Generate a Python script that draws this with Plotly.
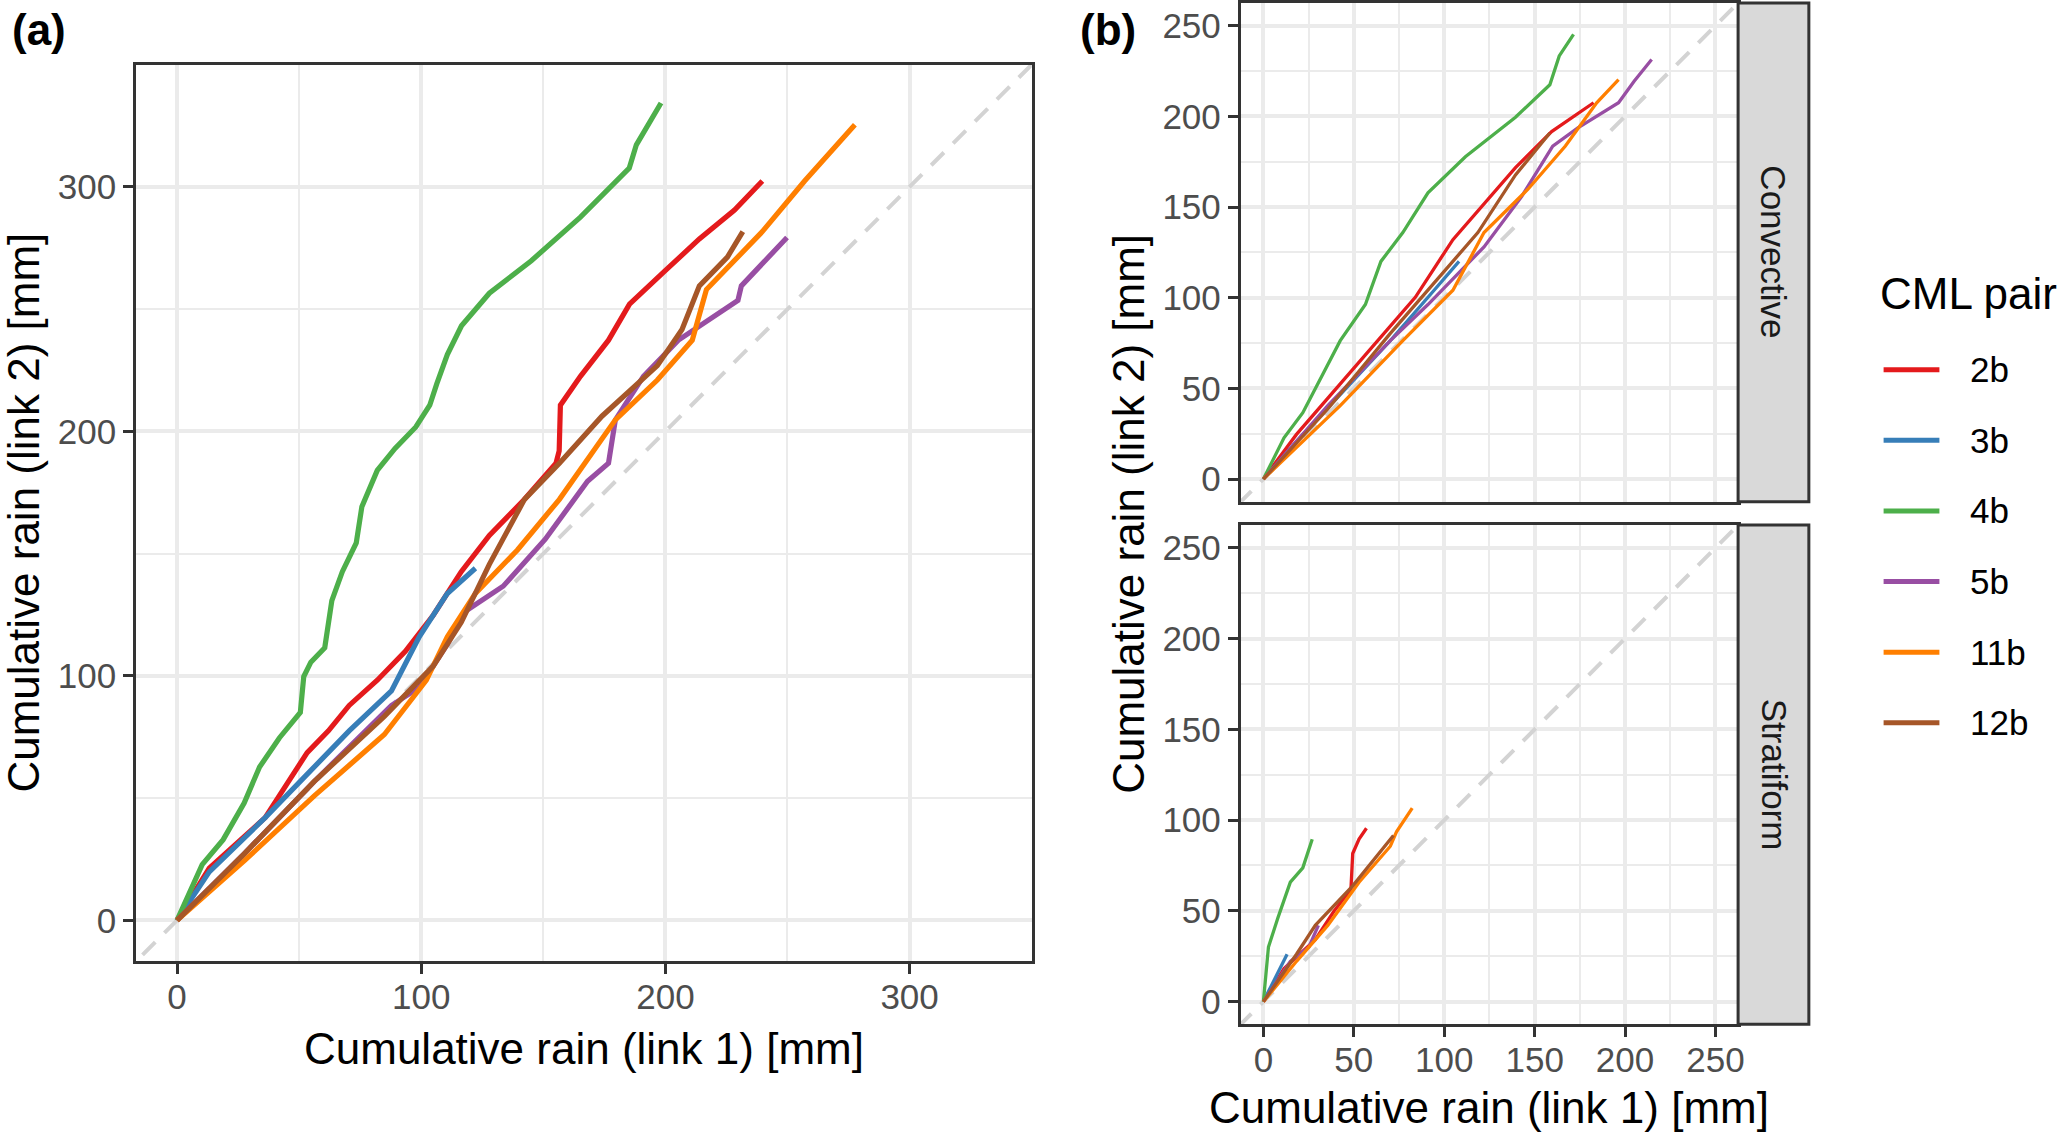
import plotly.graph_objects as go

# CML pairs and Set1 colours
pairs = ["2b", "3b", "4b", "5b", "11b", "12b"]
colors = ["#E41A1C", "#377EB8", "#4DAF4A", "#984EA3", "#FF7F00", "#A65628"]

# ---- panel (a): whole period
a_x_2b = [0, 13.2, 36.1, 47.6, 53.3, 62, 70.5, 82, 93.5, 105, 116.4, 127.9, 142.3, 155.2, 156.5, 157.0, 165.2, 176.7, 185.3, 199.6, 213.9, 228.3, 239.7]
a_y_2b = [0, 21.3, 42, 59.8, 68.6, 77.5, 87.9, 98.2, 110, 124.9, 142.6, 157.4, 172.2, 187, 192, 210.7, 222.5, 237.3, 252, 265.4, 278.7, 290.5, 302.4]
a_x_3b = [0, 13.2, 36.1, 70.5, 87.8, 99.2, 110.7, 122.2]
a_y_3b = [0, 19.8, 42, 77.5, 93.8, 116, 133.7, 144]
a_x_4b = [0, 10.3, 18.9, 27.5, 33.8, 41.9, 50.5, 51.9, 54.8, 60.5, 63.4, 67.7, 73.4, 75.7, 82, 89.2, 97.8, 103.5, 106.4, 110.7, 116.5, 127.9, 145.1, 165.2, 185.2, 188.1, 198.2]
a_y_4b = [0, 22.8, 33, 48, 62.7, 74.6, 85, 99.7, 105.6, 111.5, 130.8, 142.6, 154.4, 169.2, 184, 192.9, 201.8, 210.7, 219.5, 231.4, 243.2, 256.5, 269.8, 287.6, 307.7, 317.2, 334.3]
a_x_5b = [0, 27.5, 56.2, 87.8, 99.2, 110.7, 117.9, 133.6, 150.8, 168.1, 176.7, 179.5, 191, 205.3, 229.7, 231.1, 249.8]
a_y_5b = [0, 27.2, 56.8, 87.9, 95.3, 113, 126.3, 136.7, 155.9, 179.6, 187, 204.7, 222.5, 237.3, 253.6, 259.5, 279.3]
a_x_11b = [0, 27.5, 56.2, 84.9, 102.1, 110.7, 122.2, 139.4, 156.6, 168.1, 179.5, 196.7, 211, 216.8, 239.7, 257, 277.6]
a_y_11b = [0, 24.3, 50.9, 76, 98.2, 116, 133.7, 151.5, 172.2, 188.5, 204.7, 221, 237.3, 258, 281.7, 302.4, 325.4]
a_x_12b = [0, 27.5, 56.2, 84.9, 105, 116.4, 127.9, 142.3, 156.6, 174, 196.7, 206.8, 213.9, 225.4, 231.7]
a_y_12b = [0, 27.2, 56.8, 83.4, 104.1, 121.9, 145.6, 172.2, 187, 206.2, 226.9, 241.7, 259.5, 271.3, 281.7]

# ---- panel (b), convective events
c_x_2b = [0, 18.3, 42.5, 63.3, 84, 104.8, 125.5, 139.4, 159.4, 182.6]
c_y_2b = [0, 24.6, 52.5, 76.3, 100.2, 132, 155.8, 171.7, 191.6, 207.5]
c_x_3b = [0, 18.3, 42.5, 70.2, 94.4, 108.2]
c_y_3b = [0, 20.7, 46.5, 76.3, 104.1, 120]
c_x_4b = [0, 11.4, 21.8, 32.2, 42.5, 56.4, 65, 77.1, 91, 111.7, 139.4, 158.4, 163.6, 171.5]
c_y_4b = [0, 22.7, 36.6, 56.4, 76.3, 96.2, 120, 135.9, 157.8, 177.7, 199.5, 217.4, 233.3, 245.2]
c_x_5b = [0, 35.6, 70.2, 91, 122, 142.8, 160, 173.9, 196.4, 205, 214.7]
c_y_5b = [0, 40.5, 76.3, 96.2, 128, 155.8, 183.6, 193.6, 207.5, 219.4, 231.3]
c_x_11b = [0, 42.5, 77.1, 104.8, 122, 146.3, 167, 184.3, 196.4]
c_y_11b = [0, 40.5, 76.3, 104.1, 135.9, 159.8, 183.6, 207.5, 220.2]
c_x_12b = [0, 35.6, 70.2, 97.9, 118.6, 139.4, 158.4]
c_y_12b = [0, 38.6, 80.3, 112.1, 135.9, 167.7, 190.8]

# ---- panel (b), stratiform events
s_x_2b = [0, 11.4, 28.7, 39.1, 48.4, 49.4, 52.9, 57]
s_y_2b = [0, 18.2, 34.1, 49.9, 61.8, 81.6, 89.5, 95.5]
s_x_3b = [0, 8, 13.1]
s_y_3b = [0, 16.2, 26.1]
s_x_4b = [0, 2.8, 8, 14.9, 21.8, 27]
s_y_4b = [0, 30.1, 46, 65.8, 73.7, 89.5]
s_x_5b = [0, 14.9, 25.2, 30.4]
s_y_5b = [0, 22.2, 30.1, 42]
s_x_11b = [0, 18.3, 35.6, 52.9, 70.2, 73.6, 82.3]
s_y_11b = [0, 22.2, 42, 65.8, 85.6, 93.5, 106.6]
s_x_12b = [0, 18.3, 28.7, 49.4, 71.9]
s_y_12b = [0, 26.1, 42, 63.8, 91.5]

# 1:1 reference line
diag = [-50, 400]

W, H = 2067, 1134
FONT = "Liberation Sans"


def px_x(p):
    return p / W


def px_y(p):
    return 1 - p / H


panel_a = [(a_x_2b, a_y_2b), (a_x_3b, a_y_3b), (a_x_4b, a_y_4b),
           (a_x_5b, a_y_5b), (a_x_11b, a_y_11b), (a_x_12b, a_y_12b)]
panel_c = [(c_x_2b, c_y_2b), (c_x_3b, c_y_3b), (c_x_4b, c_y_4b),
           (c_x_5b, c_y_5b), (c_x_11b, c_y_11b), (c_x_12b, c_y_12b)]
panel_s = [(s_x_2b, s_y_2b), (s_x_3b, s_y_3b), (s_x_4b, s_y_4b),
           (s_x_5b, s_y_5b), (s_x_11b, s_y_11b), (s_x_12b, s_y_12b)]

fig = go.Figure()

for xa, ya, series, lw in [("x", "y", panel_a, 5.2), ("x2", "y2", panel_c, 3.3), ("x3", "y3", panel_s, 3.3)]:
    fig.add_trace(go.Scatter(x=diag, y=diag, xaxis=xa, yaxis=ya, mode="lines",
                             line=dict(color="#D3D3D3", width=4, dash="18px,13px"),
                             showlegend=False, hoverinfo="skip"))
    for name, col, (xs, ys) in zip(pairs, colors, series):
        fig.add_trace(go.Scatter(x=xs, y=ys, xaxis=xa, yaxis=ya, mode="lines", name=name,
                                 line=dict(color=col, width=lw), showlegend=False))

axis_common = dict(showline=True, mirror=True, linecolor="#333333", linewidth=3,
                   showgrid=True, gridcolor="#EBEBEB", gridwidth=4, zeroline=False,
                   ticks="outside", ticklen=10, tickwidth=3, tickcolor="#333333",
                   tickfont=dict(family=FONT, size=35, color="#4D4D4D"))
x_common = dict(axis_common, ticklabelstandoff=-7)
y_common = dict(axis_common, ticklabelstandoff=0)

ra = [-16.7, 350]
rb = [-12.5, 262.5]
minor_a = dict(dtick=50, tick0=0, showgrid=True, gridcolor="#EBEBEB", gridwidth=2, ticks="")
minor_b = dict(dtick=25, tick0=0, showgrid=True, gridcolor="#EBEBEB", gridwidth=2, ticks="")

fig.update_layout(
    width=W, height=H, margin=dict(l=0, r=0, t=0, b=0),
    paper_bgcolor="white", plot_bgcolor="white", showlegend=False,
    xaxis=dict(domain=[px_x(136.7), px_x(1035.2)], range=ra, dtick=100, tick0=0,
               minor=minor_a, anchor="y", **x_common),
    yaxis=dict(domain=[px_y(960.7), px_y(61.8)], range=ra, dtick=100, tick0=0,
               minor=minor_a, anchor="x", **y_common),
    xaxis2=dict(domain=[px_x(1245), px_x(1744)], range=rb, dtick=50, tick0=0,
                minor=minor_b, anchor="y2", matches="x3", **{**x_common, "ticks": "", "showticklabels": False}),
    yaxis2=dict(domain=[px_y(500), 1.0], range=rb, dtick=50, tick0=0,
                minor=minor_b, anchor="x2", **y_common),
    xaxis3=dict(domain=[px_x(1245), px_x(1744)], range=rb, dtick=50, tick0=0,
                minor=minor_b, anchor="y3", **x_common),
    yaxis3=dict(domain=[px_y(1024), px_y(523.5)], range=rb, dtick=50, tick0=0,
                minor=minor_b, anchor="x3", **y_common),
)

# facet strips
for top, bottom, label in [(-2, 500, "Convective"), (523.5, 1024, "Stratiform")]:
    fig.add_shape(type="rect", xref="paper", yref="paper",
                  x0=px_x(1744), x1=px_x(1815), y0=px_y(bottom), y1=min(px_y(top), 1.0),
                  fillcolor="#D9D9D9", line=dict(color="#333333", width=3), layer="above")
    fig.add_annotation(xref="paper", yref="paper", x=px_x(1780), y=px_y((max(top, 0) + bottom) / 2),
                       text=label, textangle=90, showarrow=False,
                       xanchor="center", yanchor="middle",
                       font=dict(family=FONT, size=35, color="#1A1A1A"))

title_font = dict(family=FONT, size=44, color="black")
x_title = "Cumulative rain (link 1) [mm]"
y_title = "Cumulative rain (link 2) [mm]"
for x, y, text, ang in [(586, 1048, x_title, 0), (24, 511, y_title, -90),
                        (1494, 1107, x_title, 0), (1132, 512, y_title, -90)]:
    fig.add_annotation(xref="paper", yref="paper", x=px_x(x), y=px_y(y), text=text,
                       textangle=ang, showarrow=False, font=title_font,
                       xanchor="center", yanchor="middle")

# panel tags
for x, text in [(10, "(a)"), (1082, "(b)")]:
    fig.add_annotation(xref="paper", yref="paper", x=px_x(x), y=px_y(27), text="<b>%s</b>" % text,
                       showarrow=False, xanchor="left", yanchor="middle",
                       font=dict(family=FONT, size=44, color="black"))

# legend
fig.add_annotation(xref="paper", yref="paper", x=px_x(1884), y=px_y(291), text="CML pair",
                   showarrow=False, xanchor="left", yanchor="middle", font=title_font)
for i, (name, col) in enumerate(zip(pairs, colors)):
    yy = 367.7 + 70.8 * i
    fig.add_shape(type="line", xref="paper", yref="paper",
                  x0=px_x(1890), x1=px_x(1946), y0=px_y(yy), y1=px_y(yy),
                  line=dict(color=col, width=5))
    fig.add_annotation(xref="paper", yref="paper", x=px_x(1975), y=px_y(yy), text=name,
                       showarrow=False, xanchor="left", yanchor="middle",
                       font=dict(family=FONT, size=35, color="black"))

fig.write_html("out.html", config={"displayModeBar": False},
               post_script="document.body.style.margin='0px';")
